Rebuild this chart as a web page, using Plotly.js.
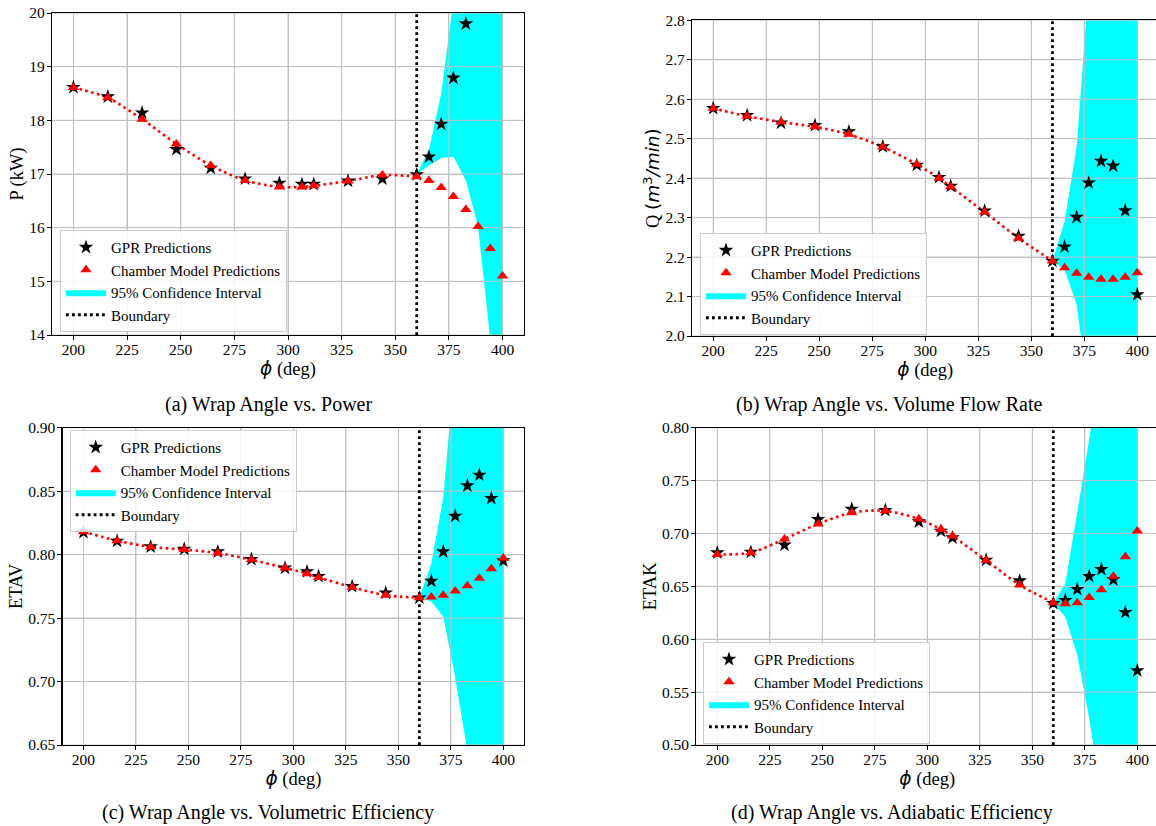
<!DOCTYPE html>
<html>
<head>
<meta charset="utf-8">
<script src="https://cdn.plot.ly/plotly-3.0.1.min.js"></script>
<style>
  html, body { margin: 0; padding: 0; overflow: hidden; background: #fff; }
  #chart { width: 1162px; height: 826px; }
</style>
</head>
<body>
<div id="chart"></div>
<script>
// ---------------- data ----------------
const phi = [200, 216, 232, 248, 264, 280, 296, 306.5, 312, 328, 344, 360, 365.7, 371.4, 377.1, 382.9, 388.6, 394.3, 400];
const phiFit = phi.slice(0, 12);               // interpolation region (200..360)
const phiBand = [360, 365.7, 371.4, 377.1, 382.9, 388.6, 394.3, 400];
const boundaryPhi = 360;
const xTicks = [200, 225, 250, 275, 300, 325, 350, 375, 400];

// (a) Power P (kW)
const powerGPR = [18.615, 18.44, 18.14, 17.46, 17.11, 16.91, 16.83, 16.81, 16.81, 16.87, 16.91, 16.99, 17.32, 17.93, 18.79, 19.80, null, null, null];
const powerCM  = [18.61, 18.42, 18.02, 17.56, 17.16, 16.88, 16.76, 16.76, 16.78, 16.87, 16.98, 16.95, 16.88, 16.75, 16.58, 16.34, 16.02, 15.61, 15.10];
const powerUpper = [17.0, 17.45, 18.50, 20.5, 22.5, 24.0, 25.5, 27.0];
const powerLower = [17.0, 17.16, 17.30, 17.32, 16.88, 16.02, 13.9, 12.0];
const powerTicks = [14, 15, 16, 17, 18, 19, 20];

// (b) Volume flow rate Q (m3/min)
const flowGPR = [2.577, 2.559, 2.540, 2.534, 2.518, 2.480, 2.433, 2.402, 2.380, 2.317, 2.253, 2.190, 2.226, 2.301, 2.388, 2.443, 2.431, 2.318, 2.105];
const flowCM  = [2.577, 2.557, 2.542, 2.530, 2.511, 2.479, 2.435, 2.400, 2.378, 2.314, 2.248, 2.190, 2.173, 2.159, 2.149, 2.144, 2.144, 2.149, 2.160];
const flowUpper = [2.19, 2.29, 2.48, 2.95, 3.3, 3.5, 3.7, 3.9];
const flowLower = [2.19, 2.168, 2.08, 1.85, 1.6, 1.4, 1.2, 1.0];
const flowTicks = [2.0, 2.1, 2.2, 2.3, 2.4, 2.5, 2.6, 2.7, 2.8];

// (c) Volumetric efficiency ETAV
const etavGPR = [0.8176, 0.8107, 0.8062, 0.8044, 0.8023, 0.7963, 0.7895, 0.7866, 0.7829, 0.775, 0.7698, 0.766, 0.7792, 0.8023, 0.8304, 0.8543, 0.8627, 0.8444, 0.7952];
const etavCM  = [0.818, 0.811, 0.806, 0.804, 0.8013, 0.796, 0.7895, 0.785, 0.782, 0.7743, 0.768, 0.766, 0.7666, 0.768, 0.7714, 0.7754, 0.7814, 0.7888, 0.7971];
const etavUpper = [0.766, 0.793, 0.845, 0.953, 1.0, 1.05, 1.1, 1.15];
const etavLower = [0.766, 0.763, 0.751, 0.703, 0.645, 0.59, 0.55, 0.5];
const etavTicks = [0.65, 0.70, 0.75, 0.80, 0.85, 0.90];

// (d) Adiabatic efficiency ETAK
const etakGPR = [0.6818, 0.6824, 0.6891, 0.7134, 0.7231, 0.7219, 0.7111, 0.7023, 0.696, 0.6749, 0.6553, 0.634, 0.6368, 0.6472, 0.6595, 0.6661, 0.6563, 0.6254, 0.5703];
const etakCM  = [0.6802, 0.6818, 0.6948, 0.709, 0.7197, 0.7215, 0.7136, 0.7039, 0.6975, 0.6746, 0.6513, 0.6346, 0.6336, 0.6346, 0.6394, 0.6468, 0.6595, 0.6781, 0.7023];
const etakUpper = [0.634, 0.653, 0.72, 0.795, 0.88, 0.95, 1.0, 1.05];
const etakLower = [0.634, 0.621, 0.585, 0.525, 0.45, 0.40, 0.35, 0.30];
const etakTicks = [0.50, 0.55, 0.60, 0.65, 0.70, 0.75, 0.80];

const legendLabels = ["GPR Predictions", "Chamber Model Predictions", "95% Confidence Interval", "Boundary"];
const captions = ["(a) Wrap Angle vs. Power", "(b) Wrap Angle vs. Volume Flow Rate",
                  "(c) Wrap Angle vs. Volumetric Efficiency", "(d) Wrap Angle vs. Adiabatic Efficiency"];

// ---------------- layout helpers ----------------
const W = 1162, H = 826;
const FONT = "Liberation Serif, Times New Roman, Times, serif";
const MATH = "DejaVu Sans";
const px = v => v / W;
const py = v => 1 - v / H;
const XR = [190, 410];
const GRID = "#c2c2c2";

const panels = [
  {gpr: powerGPR, cm: powerCM, up: powerUpper, lo: powerLower, yr: [14, 20], yt: powerTicks, fmt: ".0f",
   ytitle: "P (kW)", xd: [52, 524], yd: [13, 335], leg: [60, 230], cap: [268, 404]},
  {gpr: flowGPR, cm: flowCM, up: flowUpper, lo: flowLower, yr: [2.0, 2.8], yt: flowTicks, fmt: ".1f",
   ytitle: "Q <span style=\"font-family:" + MATH + "\">(<i>m</i><sup>3</sup><i>/min</i>)</span>",
   xd: [692, 1158.5], yd: [20.3, 336], leg: [700, 233], cap: [889, 404]},
  {gpr: etavGPR, cm: etavCM, up: etavUpper, lo: etavLower, yr: [0.65, 0.90], yt: etavTicks, fmt: ".2f",
   ytitle: "ETAV", xd: [62.5, 524.3], yd: [427.7, 745], leg: [69.7, 430], cap: [268, 812]},
  {gpr: etakGPR, cm: etakCM, up: etakUpper, lo: etakLower, yr: [0.50, 0.80], yt: etakTicks, fmt: ".2f",
   ytitle: "ETAK", xd: [696.3, 1158.3], yd: [427.7, 745], leg: [703, 642], cap: [892, 812]}
];

const xTitle = "<span style=\"font-family:" + MATH + "\"><i>ϕ</i></span> (deg)";

const traces = [];
const layout = {
  width: W, height: H,
  margin: {l: 0, r: 0, t: 0, b: 0},
  paper_bgcolor: "#fff", plot_bgcolor: "#fff",
  font: {family: FONT, color: "#000"},
  annotations: []
};

panels.forEach((p, i) => {
  const n = i === 0 ? "" : String(i + 1);
  const xa = "x" + n, ya = "y" + n;
  const legName = "legend" + n;

  // 95% confidence band
  traces.push({
    type: "scatter", mode: "lines", xaxis: xa, yaxis: ya, legend: legName,
    x: phiBand.concat(phiBand.slice().reverse()),
    y: p.up.concat(p.lo.slice().reverse()),
    fill: "toself", fillcolor: "#00ffff", line: {width: 0, color: "#00ffff"},
    name: legendLabels[2], legendrank: 3, hoverinfo: "skip"
  });
  // grid lines redrawn above the band (as matplotlib does)
  const gx = [], gy = [];
  xTicks.forEach(t => { gx.push(t, t, null); gy.push(p.yr[0], p.yr[1], null); });
  p.yt.forEach(t => { gx.push(XR[0], XR[1], null); gy.push(t, t, null); });
  traces.push({
    type: "scatter", mode: "lines", xaxis: xa, yaxis: ya, legend: legName,
    x: gx, y: gy, line: {color: GRID, width: 1}, showlegend: false, hoverinfo: "skip"
  });
  // red dotted interpolation curve
  traces.push({
    type: "scatter", mode: "lines", xaxis: xa, yaxis: ya, legend: legName,
    x: phiFit, y: p.cm.slice(0, 12),
    line: {color: "#ff0000", width: 2.6, dash: "2.6px,3.4px", shape: "spline", smoothing: 0.8},
    showlegend: false, hoverinfo: "skip"
  });
  // boundary
  traces.push({
    type: "scatter", mode: "lines", xaxis: xa, yaxis: ya, legend: legName,
    x: [boundaryPhi, boundaryPhi], y: p.yr,
    line: {color: "#000", width: 2.8, dash: "2.8px,3.2px"},
    name: legendLabels[3], legendrank: 4
  });
  // GPR predictions
  traces.push({
    type: "scatter", mode: "markers", xaxis: xa, yaxis: ya, legend: legName,
    x: phi, y: p.gpr,
    marker: {symbol: "star", size: 11, color: "#000", line: {width: 0}},
    name: legendLabels[0], legendrank: 1
  });
  // chamber model
  traces.push({
    type: "scatter", mode: "markers", xaxis: xa, yaxis: ya, legend: legName,
    x: phi, y: p.cm,
    marker: {symbol: "triangle-up", size: 10, color: "#ff0000", line: {width: 0}},
    name: legendLabels[1], legendrank: 2
  });

  layout["xaxis" + n] = {
    domain: [px(p.xd[0]), px(p.xd[1])], anchor: ya,
    range: XR, tickvals: xTicks, ticks: "outside", ticklen: 4, tickwidth: 1, tickcolor: "#000",
    ticklabelstandoff: -4,
    showline: true, mirror: true, linecolor: "#000", linewidth: 1.1,
    showgrid: true, gridcolor: GRID, gridwidth: 1, zeroline: false,
    tickfont: {family: FONT, size: 15.5, color: "#000"},
    title: {text: xTitle, font: {family: FONT, size: 18.5, color: "#000"}, standoff: 3},
    automargin: false, fixedrange: true
  };
  layout["yaxis" + n] = {
    domain: [py(p.yd[1]), py(p.yd[0])], anchor: xa,
    range: p.yr, tickvals: p.yt, tickformat: p.fmt, ticks: "outside", ticklen: 4, tickwidth: 1, tickcolor: "#000",
    ticklabelstandoff: -1,
    showline: true, mirror: true, linecolor: "#000", linewidth: 1.1,
    showgrid: true, gridcolor: GRID, gridwidth: 1, zeroline: false,
    tickfont: {family: FONT, size: 15.5, color: "#000"},
    title: {text: p.ytitle, font: {family: FONT, size: 18.5, color: "#000"}, standoff: 0},
    automargin: false, fixedrange: true
  };
  layout[legName] = {
    x: px(p.leg[0]), y: py(p.leg[1]), xanchor: "left", yanchor: "top",
    xref: "paper", yref: "paper",
    bgcolor: "rgba(255,255,255,0.85)", bordercolor: "#cccccc", borderwidth: 1,
    font: {family: FONT, size: 15, color: "#000"}, itemwidth: 40, traceorder: "normal"
  };
  layout.annotations.push({
    xref: "paper", yref: "paper", x: px(p.cap[0]), y: py(p.cap[1]),
    xanchor: "center", yanchor: "middle", showarrow: false,
    text: captions[i], font: {family: FONT, size: 20, color: "#000"}
  });
});

Plotly.newPlot("chart", traces, layout, {staticPlot: true, displayModeBar: false});
</script>
</body>
</html>
